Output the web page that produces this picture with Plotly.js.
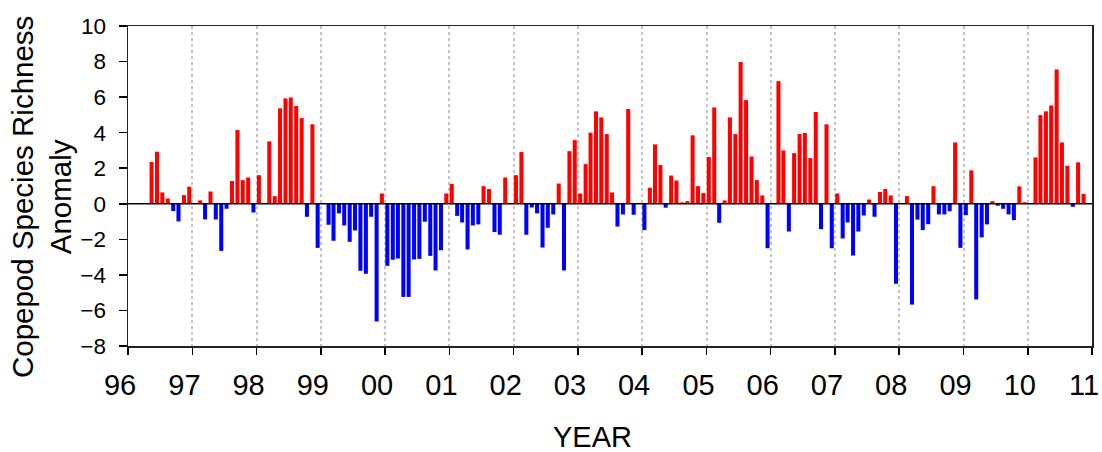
<!DOCTYPE html>
<html>
<head>
<meta charset="utf-8">
<script src="https://cdn.plot.ly/plotly-3.0.1.min.js"></script>
<style>
  html, body { margin: 0; padding: 0; background: #fff; }
  #chart { width: 1102px; height: 452px; }
</style>
</head>
<body>
<div id="chart"></div>
<script>
// Monthly copepod species richness anomaly, Jan..Dec of each year (null = no sample)
const y1996 = [null, null, null, null, 2.35, 2.93, 0.64, 0.30, -0.41, -0.99, 0.49, 0.96];
const y1997 = [null, 0.19, -0.88, 0.69, -0.88, -2.65, -0.28, 1.28, 4.15, 1.33, 1.48, -0.49];
const y1998 = [1.61, null, 3.51, 0.43, 5.37, 5.93, 5.98, 5.50, 4.82, -0.73, 4.47, -2.48];
const y1999 = [null, -1.18, -2.08, -0.54, -1.22, -2.14, -1.50, -3.77, -3.94, -0.73, -6.62, 0.58];
const y2000 = [-3.49, -3.15, -3.08, -5.24, -5.24, -3.13, -3.10, -1.01, -2.93, -3.75, -2.61, 0.58];
const y2001 = [1.11, -0.68, -1.05, -2.57, -1.22, -1.16, 0.99, 0.83, -1.59, -1.74, 1.48, null];
const y2002 = [1.61, 2.91, -1.74, -0.21, -0.54, -2.46, -1.35, -0.60, 1.14, -3.75, 2.96, 3.58];
const y2003 = [0.58, 2.23, 4.00, 5.20, 4.86, 3.92, 0.64, -1.28, -0.60, 5.33, -0.62, null];
const y2004 = [-1.48, 0.90, 3.34, 2.18, -0.22, 1.59, 1.31, 0.08, 0.15, 3.85, 0.99, 0.60];
const y2005 = [2.63, 5.42, -1.07, 0.19, 4.86, 3.92, 7.97, 5.83, 2.66, 1.33, 0.47, -2.50];
const y2006 = [null, 6.90, 3.00, -1.56, 2.85, 3.92, 3.98, 2.57, 5.16, -1.43, 4.47, -2.50];
const y2007 = [0.58, -1.95, -1.05, -2.91, -1.56, -0.66, 0.24, -0.73, 0.66, 0.83, 0.47, -4.50];
const y2008 = [null, 0.43, -5.67, -0.89, -1.48, -1.15, 0.99, -0.60, -0.60, -0.42, 3.45, -2.48];
const y2009 = [-0.64, 1.88, -5.38, -1.89, -1.16, 0.15, -0.11, -0.28, -0.60, -0.92, 0.98, 0.09];
const y2010 = [null, 2.61, 4.99, 5.20, 5.53, 7.56, 3.45, 2.14, -0.17, 2.33, 0.56, null];

const years = [1996, 1997, 1998, 1999, 2000, 2001, 2002, 2003, 2004, 2005, 2006, 2007, 2008, 2009, 2010];
const yearSeries = [y1996, y1997, y1998, y1999, y2000, y2001, y2002, y2003, y2004, y2005, y2006, y2007, y2008, y2009, y2010];
const tickYears = [1996, 1997, 1998, 1999, 2000, 2001, 2002, 2003, 2004, 2005, 2006, 2007, 2008, 2009, 2010, 2011];
const tickLabels = ['96', '97', '98', '99', '00', '01', '02', '03', '04', '05', '06', '07', '08', '09', '10', '11'];
const xTitle = 'YEAR';
const yTitle = 'Copepod Species Richness<br>Anomaly';

const xs = [], ys = [], cols = [];
years.forEach((yr, i) => {
  yearSeries[i].forEach((v, m) => {
    if (v === null) return;
    const mm = String(m + 1).padStart(2, '0');
    xs.push(`${yr}-${mm}-14`);
    ys.push(v);
    cols.push(v >= 0 ? '#ff0000' : '#0000ff');
  });
});

const FONT = 'Liberation Sans, Arial, sans-serif';

const trace = {
  type: 'bar',
  x: xs,
  y: ys,
  width: 23 * 86400000,
  marker: { color: cols, line: { width: 0 } },
  hoverinfo: 'x+y'
};

const layout = {
  width: 1102,
  height: 452,
  margin: { l: 128, r: 10, t: 26, b: 106 },
  paper_bgcolor: '#ffffff',
  plot_bgcolor: '#ffffff',
  showlegend: false,
  font: { family: FONT, color: '#000', size: 22 },
  xaxis: {
    type: 'date',
    range: ['1996-01-01', '2011-01-01'],
    tickmode: 'array',
    tickvals: tickYears.map(y => `${y}-01-01`),
    ticktext: tickLabels,
    ticks: 'outside',
    ticklen: 7,
    tickwidth: 1.5,
    tickcolor: '#000',
    ticklabelstandoff: 6,
    ticklabelshift: -8,
    ticklabeloverflow: 'allow',
    tickfont: { family: FONT, size: 29, color: '#000' },
    showgrid: true,
    gridcolor: '#c4c4c4',
    griddash: 'dot',
    gridwidth: 2,
    showline: true,
    mirror: true,
    linecolor: '#222',
    linewidth: 1.5,
    zeroline: false,
    automargin: false
  },
  yaxis: {
    range: [-8, 10],
    tickmode: 'linear',
    tick0: -8,
    dtick: 2,
    ticks: 'outside',
    ticklen: 8,
    tickwidth: 1.5,
    tickcolor: '#000',
    ticklabelstandoff: 8,
    tickfont: { family: FONT, size: 22.5, color: '#000' },
    showgrid: false,
    showline: true,
    mirror: true,
    linecolor: '#222',
    linewidth: 1.5,
    zeroline: false,
    automargin: false
  },
  annotations: [
    {
      text: xTitle, xref: 'paper', yref: 'paper', x: 0.482, y: -0.284,
      xanchor: 'center', yanchor: 'middle', showarrow: false,
      font: { family: FONT, size: 29, color: '#000' }
    },
    {
      text: yTitle, xref: 'paper', yref: 'paper', x: -0.0902, y: 0.4656,
      xanchor: 'center', yanchor: 'middle', showarrow: false, textangle: -90, align: 'center',
      font: { family: FONT, size: 29.5, color: '#000' }
    }
  ],
  shapes: [
    { type: 'line', xref: 'paper', x0: 0, x1: 1, yref: 'y', y0: 0, y1: 0, layer: 'above', line: { color: '#000', width: 1.5 } }
  ]
};

Plotly.newPlot('chart', [trace], layout, { displayModeBar: false, staticPlot: true });
</script>
</body>
</html>
